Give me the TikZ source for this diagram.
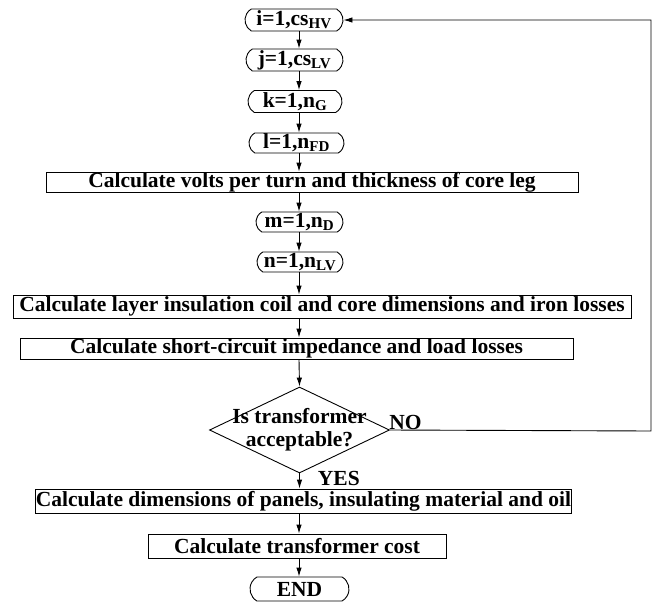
\documentclass[tikz,border=0pt]{standalone}
\usepackage{fontspec}
\setmainfont{Liberation Serif}
\usepackage{tikz}
\usetikzlibrary{shapes.misc,shapes.geometric,arrows.meta,positioning}
\newcommand{\sub}[1]{\textsubscript{#1}}

\begin{document}
\begin{tikzpicture}[
    x=1pt, y=-1pt,
    font=\fontsize{21.5}{23}\selectfont\bfseries,
    every node/.style={inner sep=0pt},
    loopbox/.style={draw, rounded rectangle, rounded rectangle arc length=120, minimum height=22pt},
    calcbox/.style={draw, rectangle, minimum height=22pt},
    decision/.style={draw, diamond, minimum width=180pt, minimum height=86pt},
    arrow/.style={-{Latex[length=9pt,width=5.5pt]}},
    line width=0.9pt
]
\useasboundingbox (0,0) rectangle (654,606);
\coordinate (axis) at (299,0);
% Nodes for the loops and steps
\node[loopbox, minimum width=98pt] (i) at (294,20) {i=1,cs\sub{HV}};
\node[loopbox, minimum width=97pt] (j) at (294.5,60) {j=1,cs\sub{LV}};
\node[loopbox, minimum width=94pt] (k) at (295,101.5) {k=1,n\sub{G}};
\node[loopbox, minimum width=95pt, minimum height=20pt] (l) at (296.5,143) {l=1,n\sub{FD}};
\node[calcbox, minimum width=532pt, minimum height=20pt] (volts) at (312,182) {Calculate volts per turn and thickness of core leg};
\node[loopbox, minimum width=87pt, minimum height=20pt] (m) at (299.5,222) {m=1,n\sub{D}};
\node[loopbox, minimum width=86pt, minimum height=20pt] (n) at (300,262) {n=1,n\sub{LV}};
\node[calcbox, minimum width=618pt, minimum height=23pt] (layer) at (322,306.5) {Calculate layer insulation coil and core dimensions and iron losses};
\node[calcbox, minimum width=553pt, minimum height=21pt] (short) at (296.5,348.5) {Calculate short-circuit impedance and load losses};
\node[decision] (dec) at (299.5,430) {};
\node[align=center] (dectext) at (dec) {Is transformer\\acceptable?};
\node[calcbox, minimum width=535pt, minimum height=24pt] (dims) at (303.5,501) {Calculate dimensions of panels, insulating material and oil};
\node[calcbox, minimum width=298pt, minimum height=24pt] (cost) at (297,546) {Calculate transformer cost};
\node[loopbox, minimum width=99pt, minimum height=24pt] (end) at (299.5,589) {END};

\node[anchor=base west] (no) at ([xshift=-1pt,yshift=1pt]dec.east) {NO};
\node[anchor=base west] (yes) at ([xshift=18pt,yshift=-12.5pt]dec.south) {YES};
\coordinate (back) at (651,431);
% Arrows connecting the steps
\draw[arrow] (i.south -| axis) -- (j.north -| axis);
\draw[arrow] (j.south -| axis) -- (k.north -| axis);
\draw[arrow] (k.south -| axis) -- (l.north -| axis);
\draw[arrow] (l.south -| axis) -- (volts.north -| axis);
\draw[arrow] (volts.south -| axis) -- (m.north -| axis);
\draw[arrow] (m.south -| axis) -- (n.north -| axis);
\draw[arrow] (n.south -| axis) -- (layer.north -| axis);
\draw[arrow] (layer.south -| axis) -- (short.north -| axis);
\draw[arrow] (short.south -| axis) -- (dec.north);
\draw[arrow] (dec.south) -- (dims.north -| dec.south);
\draw[arrow] (dims.south -| axis) -- (cost.north -| axis);
\draw[arrow] (cost.south -| axis) -- (end.north -| axis);
\draw[arrow] (dec.east) -- (back) |- (i.east);

\end{tikzpicture}
\end{document}
